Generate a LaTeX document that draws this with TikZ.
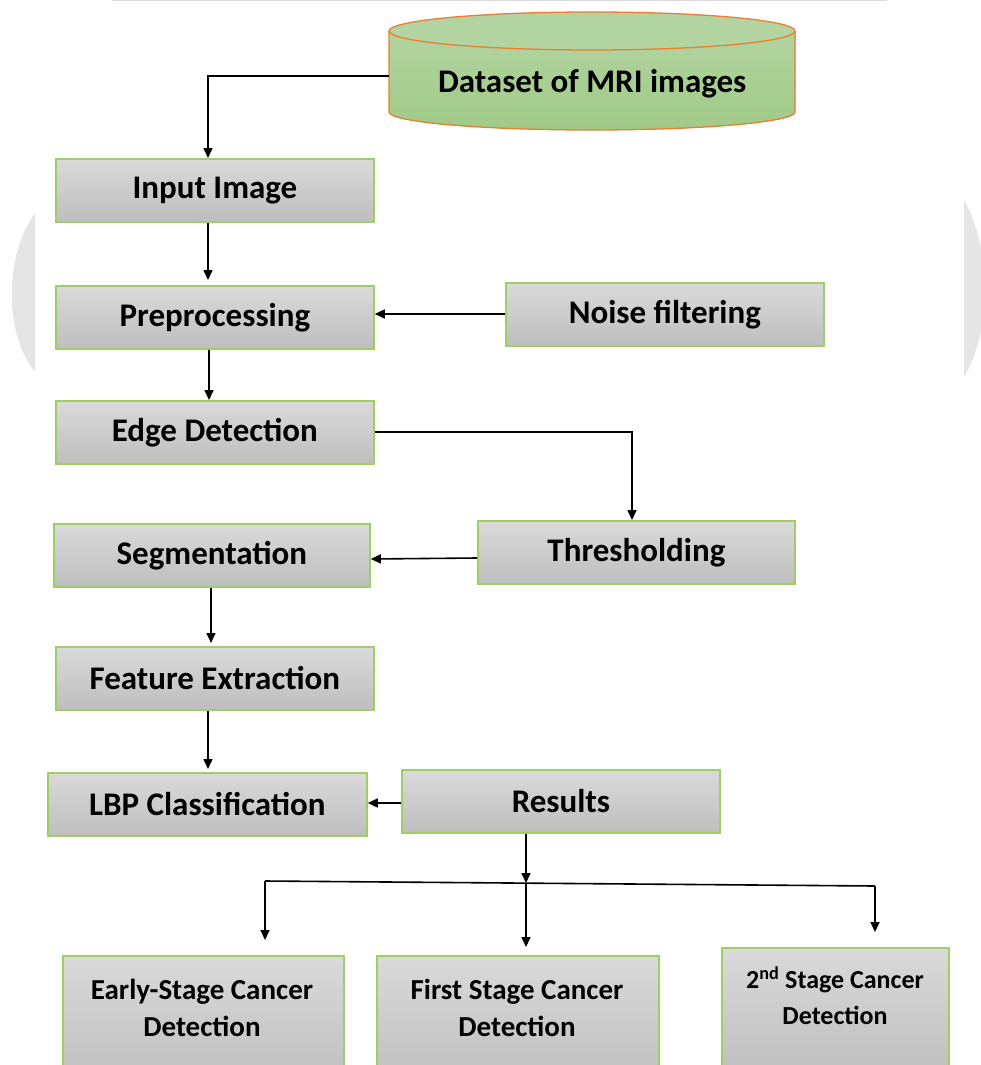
\documentclass[tikz,border=0pt]{standalone}
\usepackage{fontspec}
\setmainfont{Carlito}
\usetikzlibrary{arrows.meta}
\definecolor{gtop}{RGB}{218,218,218}
\definecolor{gbot}{RGB}{190,190,190}
\definecolor{boxgreen}{RGB}{160,205,100}
\definecolor{cyltop}{RGB}{178,212,160}
\definecolor{cylbot}{RGB}{160,202,135}
\definecolor{cylborder}{RGB}{237,125,49}
\definecolor{faint}{RGB}{229,229,229}
\tikzset{
  box/.style={draw=boxgreen, line width=1.8pt, top color=gtop, bottom color=gbot,
    minimum height=63pt, minimum width=318pt, inner sep=0pt, anchor=north west,
    font=\fontsize{33}{38}\selectfont\bfseries},
  lowbox/.style={draw=boxgreen, line width=1.8pt, top color=gtop, bottom color=gbot,
    minimum height=130pt, inner sep=0pt, anchor=north west},
  lowtext/.style={align=center, inner sep=0pt, font=\fontsize{29}{37}\selectfont\bfseries},
  arr/.style={-{Triangle[length=10pt,width=9pt]}, line width=1.6pt, black},
  ln/.style={line width=1.6pt, black}
}
\begin{document}
\begin{tikzpicture}[x=1pt,y=-1pt]
\useasboundingbox (0,0) rectangle (980,1065);
% faint background remnants
\fill[faint] (35,213) .. controls (4,255) and (4,335) .. (35,372) -- cycle;
\fill[faint] (964,200) .. controls (992,250) and (992,330) .. (964,377) -- cycle;
\draw[gray!30, line width=2pt] (112,0.5) -- (887,0.5);
% cylinder
\fill[top color=cyltop, bottom color=cylbot] (389,31) -- (389,112) arc[start angle=180, end angle=0, x radius=203, y radius=18] -- (795,31) -- cycle;
\draw[cylborder, line width=1.3pt] (389,31) -- (389,112) arc[start angle=180, end angle=0, x radius=203, y radius=18] -- (795,31);
\draw[cylborder, line width=1.3pt, fill=cyltop] (592,31) ellipse[x radius=203, y radius=19];
\node[inner sep=0pt, minimum width=406pt, minimum height=118pt, anchor=north west,
  font=\fontsize{33}{38}\selectfont\bfseries] (db) at (389,25) {Dataset of MRI images};
\coordinate (dbout) at (389,76);
% boxes
\node[box] (input) at (55,158) {Input Image};
\node[box] (pre) at (55,285) {Preprocessing};
\node[box] (noise) at (505,282) {Noise filtering};
\node[box] (edge) at (55,400) {Edge Detection};
\node[box, minimum width=317pt] (thr) at (477,520) {Thresholding};
\node[box, minimum width=316pt] (seg) at (53,523) {Segmentation};
\node[box] (feat) at (55,646) {Feature Extraction};
\node[box, minimum width=319pt] (lbp) at (47,772) {LBP Classification};
\node[box] (res) at (401,769) {Results};
\node[lowbox, minimum width=281pt] (early) at (62,955) {};
\node[lowbox, minimum width=282pt] (first) at (376,955) {};
\node[lowbox, minimum width=227pt] (second) at (721,947) {};
\node[lowtext] (earlyt) at (202,1008) {Early-Stage Cancer\\Detection};
\node[lowtext] (firstt) at (517,1008) {First Stage Cancer\\Detection};
\node[lowtext, font=\fontsize{26}{36}\selectfont\bfseries] (secondt) at (835,996) {2\textsuperscript{nd} Stage Cancer\\Detection};
% connectors
\draw[arr] (dbout) -| (input.north -| 208,0);
\draw[arr, shorten >=5pt] (input.south -| 208,0) -- (pre.north -| 208,0);
\draw[arr] (noise.west |- 0,314) -- (pre.east |- 0,314);
\draw[arr] (pre.south -| 209,0) -- (edge.north -| 209,0);
\draw[arr] (edge.east |- 0,432) -| (thr.north -| 632,0);
\draw[arr] (thr.west |- 0,558) -- (seg.east |- 0,559);
\draw[arr, shorten >=3pt] (seg.south -| 211,0) -- (feat.north -| 211,0);
\draw[arr, shorten >=3pt] (feat.south -| 208,0) -- (lbp.north -| 208,0);
\draw[arr] (res.west |- 0,803) -- (lbp.east |- 0,803);
\coordinate (bl) at (265,881);
\coordinate (bm) at (526,883);
\coordinate (br) at (875,886);
\draw[arr] (res.south -| 526,0) -- (bm);
\draw[ln] (bl) -- (br);
\draw[arr, shorten >=15pt] (bl) -- (early.north -| bl);
\draw[arr, shorten >=8pt] (bm) -- (first.north -| bm);
\draw[arr, shorten >=15pt] (br) -- (second.north -| br);
\end{tikzpicture}
\end{document}
